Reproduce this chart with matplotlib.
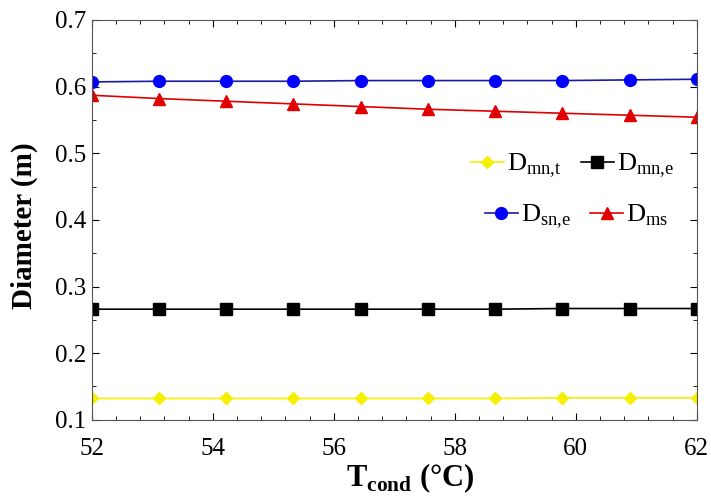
import numpy as np
import matplotlib.pyplot as plt
from matplotlib.ticker import MultipleLocator

plt.rcParams['font.family'] = 'Liberation Serif'
plt.rcParams['mathtext.fontset'] = 'custom'
plt.rcParams['mathtext.rm'] = 'Liberation Serif'
plt.rcParams['mathtext.bf'] = 'Liberation Serif:bold'

# condenser temperature (°C), 10 points
t_cond = np.linspace(52, 62, 10)
d_mn_t = [0.132, 0.132, 0.132, 0.132, 0.132, 0.132, 0.132, 0.133, 0.133, 0.133]
d_mn_e = [0.266, 0.266, 0.266, 0.266, 0.266, 0.266, 0.266, 0.267, 0.267, 0.267]
d_sn_e = [0.607, 0.608, 0.608, 0.608, 0.609, 0.609, 0.609, 0.609, 0.610, 0.611]
d_ms = [0.587, 0.582, 0.578, 0.574, 0.570, 0.566, 0.563, 0.560, 0.557, 0.554]

fig = plt.figure(figsize=(7.11, 4.98), dpi=100)
ax = fig.add_axes([0.129, 0.157, 0.851, 0.803])

l1, = ax.plot(t_cond, d_mn_t, color='#f5f000', marker='D', markersize=6, lw=1.2,
              label=r'D$_{\mathrm{mn{,}t}}$')
l2, = ax.plot(t_cond, d_mn_e, color='black', marker='s', markersize=8, lw=1.2,
              label=r'D$_{\mathrm{mn{,}e}}$')
l3, = ax.plot(t_cond, d_sn_e, color='#1a1aa0', marker='o', markersize=8.5, lw=1.2,
              markerfacecolor='#0000ff', markeredgecolor='#0000ff',
              label=r'D$_{\mathrm{sn{,}e}}$')
l4, = ax.plot(t_cond, d_ms, color='#e00000', marker='^', markersize=8.5, lw=1.2,
              label=r'D$_{\mathrm{ms}}$')

ax.set_xlim(52, 62)
ax.set_ylim(0.1, 0.7)
ax.xaxis.set_major_locator(MultipleLocator(2))
ax.xaxis.set_minor_locator(MultipleLocator(0.4))
ax.yaxis.set_major_locator(MultipleLocator(0.1))
ax.yaxis.set_minor_locator(MultipleLocator(0.05))
ax.tick_params(which='both', direction='in', top=True, right=True, labelsize=18)
ax.tick_params(which='major', length=5)
ax.tick_params(which='minor', length=3)
ax.tick_params(axis='x', pad=13)
ax.tick_params(axis='y', pad=4)
for s in ax.spines.values():
    s.set_color('#555555')

ax.set_xlabel(r'T$_{\mathbf{cond}}$ (°C)', fontsize=22, fontweight='bold')
ax.set_ylabel('Diameter (m)', fontsize=21, fontweight='bold')
# labels sit a bit off-centre in the original
ax.xaxis.set_label_coords(0.526, -0.105)
ax.yaxis.set_label_coords(-0.089, 0.485)

leg_kw = dict(ncol=2, frameon=False, fontsize=19, handlelength=1.25,
              handletextpad=0.1, columnspacing=0.75, borderpad=0,
              borderaxespad=0, loc='center left')
leg1 = ax.legend(handles=[l1, l2], bbox_to_anchor=(471 / 711, 1 - 166 / 498),
                 bbox_transform=fig.transFigure, **leg_kw)
ax.add_artist(leg1)
ax.legend(handles=[l3, l4], bbox_to_anchor=(485 / 711, 1 - 217 / 498),
          bbox_transform=fig.transFigure, **leg_kw)

fig.savefig('out.png', dpi=100)
